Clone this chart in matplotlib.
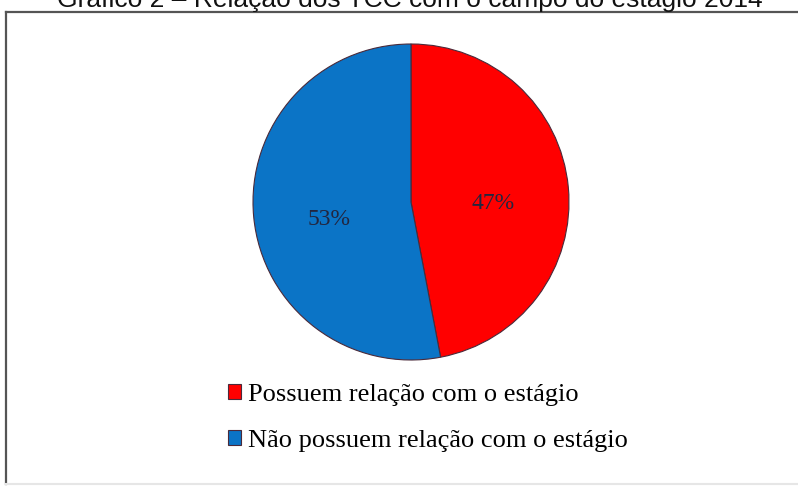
import matplotlib.pyplot as plt
from matplotlib.lines import Line2D

title = 'Gráfico 2 – Relação dos TCC com o campo do estágio 2014'
labels = ['Possuem relação com o estágio', 'Não possuem relação com o estágio']
shares = [47, 53]
colors = ['#ff0000', '#0b74c6']

W, H = 798, 487
fig = plt.figure(figsize=(W / 100, H / 100), dpi=100)

# frame around the chart (right side is cut off in the original)
fig.add_artist(Line2D([6 / W, 6 / W], [1 - 12 / H, 1 - 484 / H], color='#555555', lw=1.6))
fig.add_artist(Line2D([6 / W, 1], [1 - 12 / H, 1 - 12 / H], color='#555555', lw=1.6))
fig.add_artist(Line2D([6 / W, 1], [1 - 484 / H, 1 - 484 / H], color='#e6e6e6', lw=1.5))

# title, half cut at the top edge like in the scanned original
fig.text(410 / W, 1 - 7 / H, title, ha='center', va='baseline',
         fontsize=19, family='Liberation Sans', color='#111111')

# pie: centre (411, 202), radius 158 px
cx, cy, r = 411, 202, 158
ax = fig.add_axes([(cx - r) / W, 1 - (cy + r) / H, 2 * r / W, 2 * r / H])
wedges, texts, autotexts = ax.pie(
    shares, colors=colors, startangle=90, counterclock=False,
    autopct=lambda p: '%d%%' % round(p), pctdistance=0.52,
    wedgeprops=dict(edgecolor='#4a2a3a', linewidth=0.8),
    textprops=dict(fontsize=17, family='Liberation Serif', color='#22263f'))
for t in autotexts:
    x, y = t.get_position()
    t.set_position((x, y - 0.06))
ax.set_xlim(-1, 1)
ax.set_ylim(-1, 1)
ax.set_aspect('equal')

fig.legend(wedges, labels, loc='upper left',
           bbox_to_anchor=(215 / W, 1 - 371 / H), frameon=False,
           prop=dict(family='Liberation Serif', size=19),
           handlelength=0.5, handleheight=0.5, handletextpad=0.25,
           labelspacing=0.9, borderpad=0)

fig.savefig('out.png', dpi=100)
